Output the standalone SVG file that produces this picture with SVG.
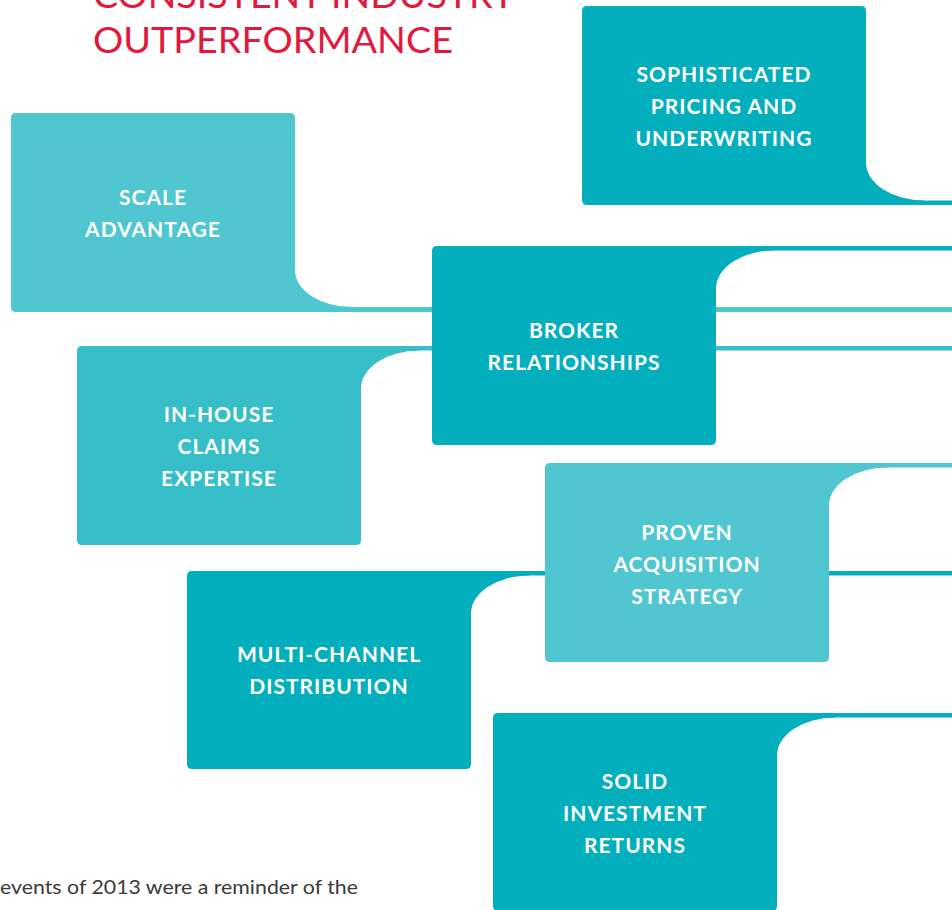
<svg xmlns="http://www.w3.org/2000/svg" width="952" height="910" viewBox="0 0 952 910">
  <style>
    .dark { fill: #03aebd; }
    .light { fill: #4fc6d0; }
    .mid { fill: #36bec9; }
    .label { font-family: Lato, "Open Sans", "Liberation Sans", sans-serif; font-weight: 700; font-size: 21px; fill: #ffffff; text-anchor: middle; letter-spacing: 1px; }
    .title { font-family: Lato, "Open Sans", "Liberation Sans", sans-serif; font-weight: 400; font-size: 37px; fill: #e2183d; }
    .body { font-family: Lato, "Open Sans", "Liberation Sans", sans-serif; font-weight: 400; font-size: 19px; fill: #3a3a3a; }
  </style>

  <rect width="952" height="910" fill="#ffffff"/>

  <!-- heading -->
  <text class="title" x="93" y="8" textLength="422" lengthAdjust="spacingAndGlyphs">CONSISTENT INDUSTRY</text>
  <text class="title" x="93" y="53" textLength="360" lengthAdjust="spacingAndGlyphs">OUTPERFORMANCE</text>

  <!-- thin lines running out of each box to the right edge -->
  <g id="connectors">
    <rect class="dark" x="866" y="200.5" width="86" height="4.5"/>
    <rect class="light" x="295" y="307" width="657" height="5"/>
    <rect class="mid" x="361" y="346" width="591" height="4.5"/>
    <rect class="dark" x="716" y="246" width="236" height="4.5"/>
    <rect class="dark" x="471" y="571" width="481" height="4.5"/>
    <rect class="light" x="829" y="463" width="123" height="4.5"/>
    <rect class="dark" x="777" y="713" width="175" height="4.5"/>
  </g>

  <g id="sophisticated-pricing">
    <path class="dark" d="M587,6 H861 Q866,6 866,11 V162.5 A58,38 0 0 0 924,200.5 V205 H587 Q582,205 582,200 V11 Q582,6 587,6 Z"/>
    <text class="label" x="724" y="81.5">SOPHISTICATED</text>
    <text class="label" x="724" y="113.5">PRICING AND</text>
    <text class="label" x="724" y="145.5">UNDERWRITING</text>
  </g>

  <g id="scale-advantage">
    <path class="light" d="M16,113 H290 Q295,113 295,118 V270 A57,37 0 0 0 352,307 V312 H16 Q11,312 11,307 V118 Q11,113 16,113 Z"/>
    <text class="label" x="153" y="204.5">SCALE</text>
    <text class="label" x="153" y="236.5">ADVANTAGE</text>
  </g>

  <g id="in-house-claims">
    <path class="mid" d="M82,346 H419 V350.5 A58,38 0 0 0 361,388.5 V540 Q361,545 356,545 H82 Q77,545 77,540 V351 Q77,346 82,346 Z"/>
    <text class="label" x="219" y="422">IN-HOUSE</text>
    <text class="label" x="219" y="454">CLAIMS</text>
    <text class="label" x="219" y="486">EXPERTISE</text>
  </g>

  <g id="broker-relationships">
    <path class="dark" d="M437,246 H774 V250.5 A58,38 0 0 0 716,288.5 V440 Q716,445 711,445 H437 Q432,445 432,440 V251 Q432,246 437,246 Z"/>
    <text class="label" x="574" y="338">BROKER</text>
    <text class="label" x="574" y="370">RELATIONSHIPS</text>
  </g>

  <g id="multi-channel">
    <path class="dark" d="M192,571 H529 V575.5 A58,38 0 0 0 471,613.5 V764 Q471,769 466,769 H192 Q187,769 187,764 V576 Q187,571 192,571 Z"/>
    <text class="label" x="329" y="662">MULTI-CHANNEL</text>
    <text class="label" x="329" y="694">DISTRIBUTION</text>
  </g>

  <g id="proven-acquisition">
    <path class="light" d="M550,463 H887 V467.5 A58,38 0 0 0 829,505.5 V657 Q829,662 824,662 H550 Q545,662 545,657 V468 Q545,463 550,463 Z"/>
    <text class="label" x="687" y="540">PROVEN</text>
    <text class="label" x="687" y="572">ACQUISITION</text>
    <text class="label" x="687" y="604">STRATEGY</text>
  </g>

  <g id="solid-investment">
    <path class="dark" d="M498,713 H835 V717.5 A58,38 0 0 0 777,755.5 V906 Q777,911 772,911 H498 Q493,911 493,906 V718 Q493,713 498,713 Z"/>
    <text class="label" x="635" y="789">SOLID</text>
    <text class="label" x="635" y="821">INVESTMENT</text>
    <text class="label" x="635" y="853">RETURNS</text>
  </g>

  <!-- running copy -->
  <text class="body" x="0" y="894" textLength="358" lengthAdjust="spacingAndGlyphs">events of 2013 were a reminder of the</text>
</svg>
